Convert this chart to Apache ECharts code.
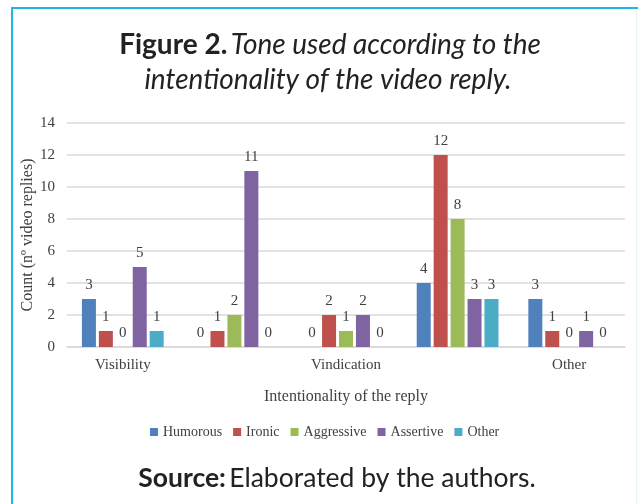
<!DOCTYPE html>
<html><head><meta charset="utf-8">
<script src="https://cdn.jsdelivr.net/npm/echarts@6/dist/echarts.min.js"></script>
<style>html,body{margin:0;padding:0;background:#fff}#c{width:638px;height:504px}</style>
</head><body><div id="c"></div>
<script>
const categories = ['Visibility', '', 'Vindication', '', 'Other'];
const humorous   = [3, 0, 0, 4, 3];
const ironic     = [1, 1, 2, 12, 1];
const aggressive = [0, 2, 1, 8, 0];
const assertive  = [5, 11, 2, 3, 1];
const otherTone  = [1, 0, 0, 3, 0];
const seriesNames = ['Humorous', 'Ironic', 'Aggressive', 'Assertive', 'Other'];
const seriesData = [humorous, ironic, aggressive, assertive, otherTone];
const colors = ['#4F81BD', '#C0504D', '#9BBB59', '#8064A2', '#4BACC6'];
const yTicks = [0, 2, 4, 6, 8, 10, 12, 14];

const serif = '"Liberation Serif","Times New Roman",serif';
const sans = 'Lato, "Open Sans", sans-serif';
const chart = echarts.init(document.getElementById('c'), null, {renderer: 'canvas'});
chart.setOption({
  animation: false,
  color: colors,
  grid: {left: 67, right: 13, top: 123, bottom: 157, containLabel: false},
  xAxis: {
    type: 'category', data: categories,
    axisLine: {lineStyle: {color: '#D9D9D9', width: 1.5}},
    axisTick: {show: false},
    axisLabel: {interval: 0, color: '#404040', fontFamily: serif, fontSize: 15, margin: 11},
    name: 'Intentionality of the reply', nameLocation: 'middle', nameGap: 42, nameMoveOverlap: false,
    nameTextStyle: {color: '#404040', fontFamily: serif, fontSize: 16}
  },
  yAxis: {
    type: 'value', min: yTicks[0], max: yTicks[yTicks.length - 1], interval: 2,
    axisLine: {show: false}, axisTick: {show: false},
    splitLine: {lineStyle: {color: '#D9D9D9', width: 1.5}},
    axisLabel: {color: '#404040', fontFamily: serif, fontSize: 15, margin: 12},
    name: 'Count (nº video replies)', nameLocation: 'middle', nameGap: 31, nameRotate: 90, nameMoveOverlap: false,
    nameTextStyle: {color: '#404040', fontFamily: serif, fontSize: 16}
  },
  legend: {
    left: 145, top: 420, itemWidth: 8, itemHeight: 8, itemGap: 11, icon: 'rect',
    textStyle: {color: '#404040', fontFamily: serif, fontSize: 14},
    data: seriesNames
  },
  series: seriesNames.map((n, i) => ({
    name: n, type: 'bar', data: seriesData[i],
    barWidth: 14, barGap: '21%',
    label: {show: true, position: 'top', distance: 6, color: '#404040', fontFamily: serif, fontSize: 15}
  })),
  graphic: [
    {type: 'rect', shape: {x: 11, y: 7, width: 2, height: 497}, style: {fill: '#1FB5EC'}},
    {type: 'rect', shape: {x: 11, y: 7, width: 627, height: 2}, style: {fill: '#1FB5EC'}},
    {type: 'rect', shape: {x: 636, y: 9, width: 1, height: 495}, style: {fill: '#EAF3F8'}},
    {type: 'text', x: 330, y: 45, style: {
      text: '{b|Figure 2.} {i|Tone used according to the}',
      textAlign: 'center', textVerticalAlign: 'middle',
      rich: {
        b: {fontFamily: sans, fontWeight: 'bold', fontSize: 28, fill: '#222'},
        i: {fontFamily: sans, fontStyle: 'italic', fontSize: 28, fill: '#222'}
      }}},
    {type: 'text', x: 328, y: 80, style: {
      text: 'intentionality of the video reply.', textAlign: 'center', textVerticalAlign: 'middle',
      fontFamily: sans, fontStyle: 'italic', fontSize: 28, fill: '#222'}},
    {type: 'text', x: 337, y: 478, style: {
      text: '{b|Source:} {n|Elaborated by the authors.}',
      textAlign: 'center', textVerticalAlign: 'middle',
      rich: {
        b: {fontFamily: sans, fontWeight: 'bold', fontSize: 26.5, fill: '#222'},
        n: {fontFamily: sans, fontSize: 26.5, fill: '#222'}
      }}}
  ]
});
</script></body></html>
